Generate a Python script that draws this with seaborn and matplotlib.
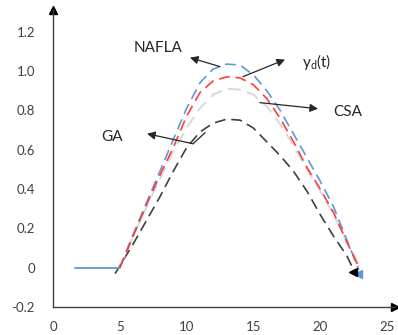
import matplotlib
matplotlib.use("Agg")
import matplotlib.pyplot as plt
import seaborn as sns

sns.set_theme(style="white")
plt.rcParams["font.family"] = ["Lato", "DejaVu Sans"]

# Time samples and tracking outputs
t = [5, 6, 7, 8, 9, 10, 11, 12, 13, 14, 15, 16, 17, 18, 19, 20, 21, 22, 22.9]
y_nafla = [0.00, 0.17, 0.33, 0.49, 0.65, 0.81, 0.94, 1.01, 1.035, 1.03,
           0.98, 0.90, 0.80, 0.68, 0.56, 0.44, 0.31, 0.14, -0.01]
y_ref = [0.00, 0.16, 0.32, 0.47, 0.61, 0.77, 0.89, 0.95, 0.97, 0.965,
         0.93, 0.86, 0.76, 0.64, 0.51, 0.40, 0.28, 0.13, 0.00]
y_csa = [0.00, 0.16, 0.31, 0.45, 0.59, 0.71, 0.81, 0.88, 0.91, 0.905,
         0.88, 0.82, 0.73, 0.62, 0.50, 0.39, 0.27, 0.13, 0.02]
t_ga = [4.65, 6, 7, 8, 9, 10, 11, 12, 13, 14, 15, 16, 17, 18, 19, 20, 21, 22, 22.35]
y_ga = [-0.03, 0.12, 0.24, 0.36, 0.49, 0.61, 0.69, 0.735, 0.755, 0.75,
        0.71, 0.64, 0.57, 0.49, 0.39, 0.27, 0.16, 0.06, 0.01]
t_hold = [1.65, 5]
y_hold = [0, 0]

x_ticks = [0, 5, 10, 15, 20, 25]
y_ticks = [-0.2, 0, 0.2, 0.4, 0.6, 0.8, 1.0, 1.2]
y_tick_labels = ["-0.2", "0", "0.2", "0.4", "0.6", "0.8", "1.0", "1.2"]

BLUE = "#5b9bd5"
RED = "#ff3b3b"
GREY = "#d9d9d9"
DARK = "#404040"

fig = plt.figure(figsize=(3.98, 3.35), dpi=100)
ax = fig.add_axes([53 / 398, 28 / 335, 342 / 398, 297 / 335])

dash = (0, (6.5, 3.5))
sns.lineplot(x=t_ga, y=y_ga, ax=ax, color=DARK, linewidth=1.2, linestyle=dash, sort=False)
sns.lineplot(x=t, y=y_csa, ax=ax, color=GREY, linewidth=1.4, linestyle=dash, sort=False)
sns.lineplot(x=t_hold, y=y_hold, ax=ax, color=BLUE, linewidth=1.3, sort=False)
sns.lineplot(x=t, y=y_nafla, ax=ax, color=BLUE, linewidth=1.2, linestyle=dash, sort=False)
sns.lineplot(x=t, y=y_ref, ax=ax, color=RED, linewidth=1.2, linestyle=dash, sort=False)

# line-end heads
ax.plot([t[-1] - 0.05], [y_nafla[-1] - 0.02], marker="<", color=BLUE, markersize=6, clip_on=False)
ax.plot([t_ga[-1] + 0.1], [y_ga[-1] - 0.03], marker="<", color="black", markersize=6, clip_on=False)

ax.set_xlim(0, 25.6)
ax.set_ylim(-0.2, 1.31)
ax.set_xticks(x_ticks)
ax.set_yticks(y_ticks)
ax.set_yticklabels(y_tick_labels)
ax.tick_params(axis="both", length=0, labelsize=9.5, labelcolor=DARK)
ax.tick_params(axis="y", pad=13)
ax.tick_params(axis="x", pad=10)

for side in ["top", "right"]:
    ax.spines[side].set_visible(False)
for side in ["left", "bottom"]:
    ax.spines[side].set_color(DARK)
    ax.spines[side].set_linewidth(1.0)
ax.plot(1, 0, ">", color="black", markersize=6, transform=ax.transAxes, clip_on=False)
ax.plot(0, 1, "^", color="black", markersize=6, transform=ax.transAxes, clip_on=False)

arrow = dict(arrowstyle="-|>", color="#262626", lw=0.9, mutation_scale=12, shrinkA=0, shrinkB=0)
txt = dict(fontsize=11, color="#262626")

ax.annotate("", xy=(10.25, 1.068), xytext=(12.5, 1.022), arrowprops=arrow)
ax.text(7.86, 1.119, "NAFLA", ha="center", va="center", **txt)

ax.annotate("", xy=(17.37, 1.058), xytext=(14.22, 0.971), arrowprops=arrow)
ax.text(18.64, 1.047, r"y$_\mathregular{d}$(t)", ha="left", va="center", **txt)

ax.annotate("", xy=(19.84, 0.808), xytext=(15.49, 0.839), arrowprops=arrow)
ax.text(20.96, 0.793, "CSA", ha="left", va="center", **txt)

ax.plot([11.38, 10.48], [0.686, 0.63], color="#262626", lw=0.9)
ax.annotate("", xy=(7.04, 0.681), xytext=(10.48, 0.63), arrowprops=arrow)
ax.text(4.42, 0.666, "GA", ha="center", va="center", **txt)

ax.set_xlabel("")
ax.set_ylabel("")
fig.savefig("out.png", dpi=100)
